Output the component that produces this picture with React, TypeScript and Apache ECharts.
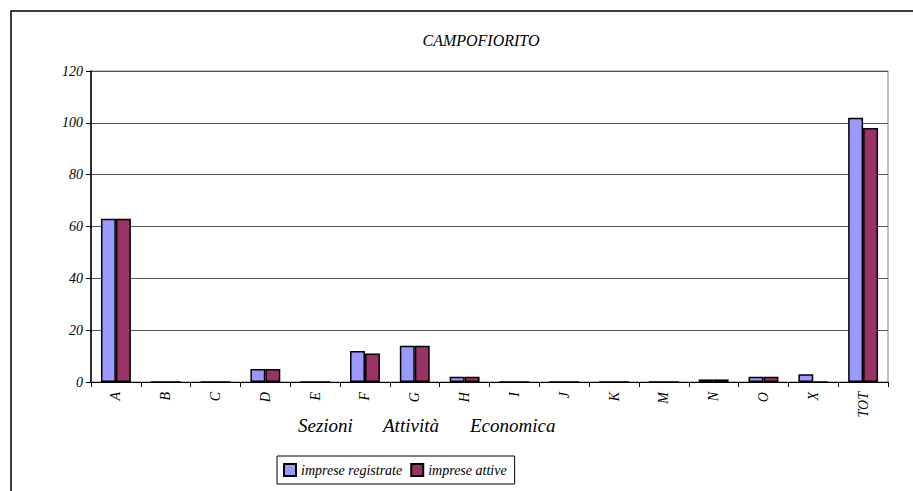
import React, { useEffect, useRef } from "react";
import * as echarts from "echarts";

const categories = ["A", "B", "C", "D", "E", "F", "G", "H", "I", "J", "K", "M", "N", "O", "X", "TOT"];
const impreseRegistrate = [63, 0, 0, 5, 0, 12, 14, 2, 0, 0, 0, 0, 1, 2, 3, 102];
const impreseAttive = [63, 0, 0, 5, 0, 11, 14, 2, 0, 0, 0, 0, 1, 2, 0, 98];
const yTicks = [0, 20, 40, 60, 80, 100, 120];
const titleText = "CAMPOFIORITO";
const xNameWords = ["Sezioni", "Attività", "Economica"];
const xNameX = [298, 383, 470];
const seriesNames = ["imprese registrate", "imprese attive"];

const FONT = "Liberation Serif";

function build() {
  const o: any = {
    animation: false,
    xAxis: {
      type: "category",
      data: categories,
      boundaryGap: true,
      axisLine: { lineStyle: { color: "#000", width: 1 } },
      axisTick: { show: true, alignWithLabel: false, length: 5, lineStyle: { color: "#000" } },
      axisLabel: { rotate: 90, margin: 10, fontFamily: FONT, fontStyle: "italic", fontSize: 14, color: "#000", interval: 0 },
    },
    yAxis: {
      type: "value",
      min: yTicks[0],
      max: yTicks[yTicks.length - 1],
      interval: 20,
      axisLine: { show: true, lineStyle: { color: "#000", width: 1.5 } },
      axisTick: { show: true, length: 5, lineStyle: { color: "#000" } },
      splitLine: { show: true, lineStyle: { color: "#555", width: 1 } },
      axisLabel: { fontFamily: FONT, fontStyle: "italic", fontSize: 14, color: "#000" },
    },
    grid: { left: 91, right: 25, top: 71, bottom: 109, show: true, borderColor: "#808080", borderWidth: 1, backgroundColor: "#fff" },
    series: [
      { name: seriesNames[0], type: "bar", data: impreseRegistrate, barGap: "0%", barCategoryGap: "40%", itemStyle: { color: "#9999FF", borderColor: "#000", borderWidth: 1.5 } },
      { name: seriesNames[1], type: "bar", data: impreseAttive, barGap: "0%", barCategoryGap: "40%", itemStyle: { color: "#993366", borderColor: "#000", borderWidth: 1.5 } },
    ],
  };
  o.backgroundColor = "#ffffff";
  o.graphic = [
    { type: "rect", shape: { x: 11, y: 11, width: 940, height: 500 }, style: { fill: "none", stroke: "#000", lineWidth: 1.5 }, silent: true },
    { type: "text", x: 481, y: 32, style: { text: titleText, fontFamily: FONT, fontStyle: "italic", fontSize: 16, fill: "#000", textAlign: "center" } },
    ...xNameWords.map((w, i) => ({
      type: "text",
      x: xNameX[i],
      y: 416,
      style: { text: w, fontFamily: FONT, fontStyle: "italic", fontSize: 19, fill: "#000" },
    })),
  ];
  o.legend = {
    left: 277,
    top: 456,
    itemWidth: 12,
    itemHeight: 12,
    padding: [7, 8, 7, 6],
    borderColor: "#000",
    borderWidth: 1,
    icon: "rect",
    textStyle: { fontFamily: FONT, fontStyle: "italic", fontSize: 14, color: "#000" },
    data: seriesNames,
  };
  return o;
}

export default function App() {
  const ref = useRef<HTMLDivElement>(null);
  useEffect(() => {
    if (!ref.current) return;
    const chart = echarts.init(ref.current, undefined, { renderer: "svg" });
    chart.setOption(build());
    return () => chart.dispose();
  }, []);
  return <div ref={ref} style={{ position: "fixed", left: 0, top: 0, width: 913, height: 491 }} />;
}
